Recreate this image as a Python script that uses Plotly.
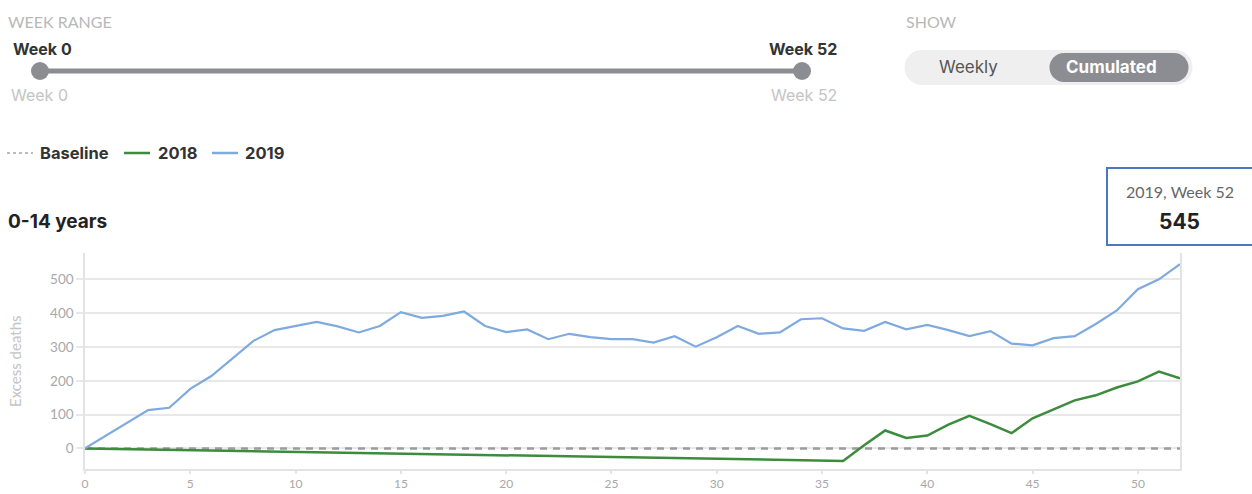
import plotly.graph_objects as go

weeks = list(range(53))
excess_2019 = [0, 38, 76, 113, 120, 176, 214, 265, 318, 350, 362, 374, 361, 343, 362,
               403, 386, 392, 405, 362, 344, 352, 323, 339, 329, 323, 323, 313, 332, 301,
               329, 362, 339, 343, 382, 385, 355, 348, 374, 352, 365, 350, 332, 347, 310,
               305, 326, 332, 368, 408, 471, 500, 545]
excess_2018 = [0, -1, -2, -3, -4, -5, -6, -7, -8, -9, -10, -11, -12, -13, -15, -16, -17,
               -18, -19, -20, -21, -22, -23, -24, -25, -26, -27, -28, -29, -30, -31, -32,
               -33, -34, -35, -36, -37, 9, 53, 31, 38, 70, 96, 72, 45, 89, 116, 142, 157,
               180, 198, 227, 207]
baseline = [0] * 53
x_ticks = [0, 5, 10, 15, 20, 25, 30, 35, 40, 45, 50]
y_ticks = [0, 100, 200, 300, 400, 500]

W, H = 1252, 494
L, R, T, B = 85, 1180, 253, 469


def px(x):
    return (x - L) / (R - L)


def py(y):
    return (B - y) / (B - T)


fig = go.Figure()
fig.add_trace(go.Scatter(x=weeks, y=baseline, mode="lines", name="Baseline",
                         line=dict(color="#9c9c9c", width=2.5, dash="7px,6px"), hoverinfo="skip"))
fig.add_trace(go.Scatter(x=weeks, y=excess_2018, mode="lines", name="2018",
                         line=dict(color="#3d8b3d", width=2.5)))
fig.add_trace(go.Scatter(x=weeks, y=excess_2019, mode="lines", name="2019",
                         line=dict(color="#7eaade", width=2.2)))

ann = []
shapes = []


def text(x, y, s, size=13, color="#333", bold=False, xanchor="left", font="Inter"):
    ann.append(dict(x=px(x), y=py(y), xref="paper", yref="paper", text=("<b>%s</b>" % s) if bold else s,
                    showarrow=False, xanchor=xanchor, yanchor="middle",
                    font=dict(size=size, color=color, family=font)))


def rect(x0, y0, x1, y1, fill, line=None, lw=0):
    shapes.append(dict(type="rect", xref="paper", yref="paper", x0=px(x0), x1=px(x1),
                       y0=py(y1), y1=py(y0), fillcolor=fill,
                       line=dict(color=line or fill, width=lw), layer="above"))


def circle(cx, cy, r, fill):
    shapes.append(dict(type="circle", xref="paper", yref="paper", x0=px(cx - r), x1=px(cx + r),
                       y0=py(cy + r), y1=py(cy - r), fillcolor=fill,
                       line=dict(width=0), layer="above"))


def hline(x0, x1, y, color, width, dash="solid"):
    shapes.append(dict(type="line", xref="paper", yref="paper", x0=px(x0), x1=px(x1),
                       y0=py(y), y1=py(y), line=dict(color=color, width=width, dash=dash),
                       layer="above"))


# Week range slider
text(6, 21, "WEEK RANGE", size=16, color="#b8b8b8", font="Lato")
text(11, 49, "Week 0", size=16, color="#333", bold=True)
text(839, 49, "Week 52", size=16, color="#333", bold=True, xanchor="right")
text(9, 95, "Week 0", size=16, color="#c4c4c4")
text(839, 95, "Week 52", size=16, color="#c4c4c4", xanchor="right")
hline(40, 802, 71, "#8c8d92", 5)
circle(40, 71, 9, "#8c8d92")
circle(802, 71, 9, "#8c8d92")

# Show toggle
text(904, 21, "SHOW", size=16, color="#b8b8b8", font="Lato")
rect(922, 50, 1175, 85, "#efefef")
circle(922, 67.5, 17.5, "#efefef")
circle(1175, 67.5, 17.5, "#efefef")
rect(1064, 53, 1174, 82, "#8c8d92")
circle(1064, 67.5, 14.5, "#8c8d92")
circle(1174, 67.5, 14.5, "#8c8d92")
text(968, 67, "Weekly", size=17, color="#555", xanchor="center")
text(1111, 67, "<b>Cumulated</b>", size=17, color="#ffffff", xanchor="center")

# Legend
hline(7, 33, 153, "#777", 1, "dot")
text(38, 153, "Baseline", size=16.5, color="#333", bold=True)
hline(124, 150, 153, "#3d8b3d", 2.5)
text(156, 153, "2018", size=16.5, color="#333", bold=True)
hline(212, 238, 153, "#7eaade", 2.5)
text(243, 153, "2019", size=16.5, color="#333", bold=True)

# Subtitle
text(6, 221, "0-14 years", size=19, color="#222", bold=True)

# Y title
ann.append(dict(x=px(15), y=py(361), xref="paper", yref="paper", text="Excess deaths",
                textangle=-90, showarrow=False, xanchor="center", yanchor="middle",
                font=dict(size=15, color="#c4c4c4", family="Lato")))

# Tooltip
rect(1107, 168, 1262, 245, "#ffffff", line="#4a78c0", lw=2)
text(1180, 191, "2019, Week 52", size=16, color="#666", xanchor="center", font="Lato")
text(1179, 221, "%d" % excess_2019[-1], size=21, color="#222", bold=True, xanchor="center")

fig.update_layout(
    template="none",
    width=W, height=H,
    margin=dict(l=L, r=W - R, t=T, b=H - B, pad=0),
    paper_bgcolor="white", plot_bgcolor="white",
    showlegend=False,
    annotations=ann,
    shapes=shapes,
    xaxis=dict(range=[0, 52], tickvals=x_ticks, showgrid=False, zeroline=False,
               showline=True, linecolor="#e3e3e3", linewidth=1.5,
               ticks="outside", ticklen=3, tickcolor="#e3e3e3", tickwidth=1.5,
               tickfont=dict(size=12, color="#a8a8a8", family="Lato"), automargin=False),
    yaxis=dict(range=[-61, 578], tickvals=y_ticks, showgrid=True, gridcolor="#e8e8e8",
               gridwidth=1.5, zeroline=False, showline=True, mirror=True,
               linecolor="#e3e3e3", linewidth=1.5, ticks="outside", ticklen=7,
               tickcolor="#e8e8e8", tickwidth=1.5,
               tickfont=dict(size=13.5, color="#a8a8a8", family="Lato"), automargin=False),
)

fig.write_html("out.html", config={"displayModeBar": False},
               post_script="document.body.style.margin='0';document.body.style.overflow='hidden';")
